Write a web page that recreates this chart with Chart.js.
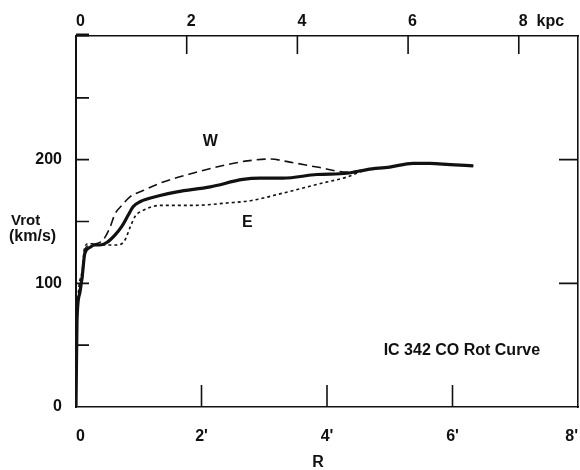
<!DOCTYPE html>
<html>
<head>
<meta charset="utf-8">
<script src="https://cdn.jsdelivr.net/npm/chart.js@4.4.0/dist/chart.umd.min.js"></script>
<style>
html,body{margin:0;padding:0;background:#fff;}
#wrap{width:580px;height:470px;}
</style>
</head>
<body>
<div id="wrap"><canvas id="c" width="580" height="470"></canvas></div>
<script>
// ---- data (radius in arcmin, rotation velocity in km/s) ----
const meanRadius = [0, 0.016, 0.06, 0.10, 0.14, 0.22, 0.30, 0.38, 0.49, 0.62, 0.73, 0.83, 0.91, 1.02, 1.34, 1.61, 2.14, 2.66, 2.93, 3.30, 3.84, 4.32, 4.64, 5.00, 5.37, 5.64, 5.96, 6.33];
const meanVrot   = [0, 70, 92, 106, 124, 129, 131, 131, 133, 139, 146, 155, 162, 166, 171, 174, 178, 184, 185, 185, 188, 189, 192, 194, 197, 197, 196, 195];

const westRadius = [0, 0.016, 0.10, 0.14, 0.22, 0.43, 0.54, 0.62, 0.73, 0.86, 1.07, 1.34, 1.86, 2.41, 2.73, 3.09, 3.41, 3.84, 4.32, 4.64, 5.00, 5.37, 5.64, 5.96, 6.33];
const westVrot   = [0, 70, 103, 127, 131, 135, 145, 156, 163, 170, 175, 181, 189, 196, 199, 200.5, 198, 194, 190, 192, 194, 197, 197, 196, 195];

const eastRadius = [0, 0.016, 0.10, 0.13, 0.19, 0.27, 0.38, 0.54, 0.67, 0.78, 0.86, 0.94, 1.07, 1.34, 1.86, 2.41, 2.80, 3.30, 3.84, 4.32, 4.64, 5.00, 5.37, 5.64, 5.96, 6.33];
const eastVrot   = [0, 70, 110, 127, 132, 132, 131, 131, 131, 135, 145, 154, 159, 163, 163, 165, 167, 173, 180, 186, 192, 194, 197, 197, 196, 195];

// ---- tick labels ----
const bottomTickValues = [0, 2, 4, 6, 8];
const bottomTickLabels = ["0", "2'", "4'", "6'", "8'"];
const topTickValues = [0, 2, 4, 6, 8];
const topTickLabels = ["0", "2", "4", "6", "8  kpc"];
const leftTickValues = [0, 100, 200];
const leftTickLabels = ["0", "100", "200"];

// inward tick marks
const bottomMarks = [2, 4, 6];
const topMarks = [2, 4, 6, 8];
const leftMarks = [50, 100, 150, 200, 250];
const rightMarks = [100, 200];

const INK = '#111';
const FONT = '"Liberation Sans", Arial, Helvetica, sans-serif';
Chart.defaults.font.family = FONT;
Chart.defaults.color = INK;

function pts(xs, ys) { return xs.map((x, i) => ({x: x, y: ys[i]})); }
function lookup(vals, labels) {
  return function(v) { const i = vals.indexOf(v); return i >= 0 ? labels[i] : ''; };
}

const extras = {
  id: 'extras',
  afterDraw(chart) {
    const ctx = chart.ctx;
    const sx = chart.scales.x, sx2 = chart.scales.x2, sy = chart.scales.y;
    const a = chart.chartArea;
    ctx.save();
    ctx.strokeStyle = INK;
    ctx.lineWidth = 1.6;
    ctx.beginPath();
    bottomMarks.forEach(v => { const p = sx.getPixelForValue(v); ctx.moveTo(p, a.bottom); ctx.lineTo(p, a.bottom - 22); });
    topMarks.forEach(v => { const p = sx2.getPixelForValue(v); ctx.moveTo(p, a.top); ctx.lineTo(p, a.top + 18); });
    leftMarks.forEach(v => { const p = sy.getPixelForValue(v); ctx.moveTo(a.left, p); ctx.lineTo(a.left + 13, p); });
    rightMarks.forEach(v => { const p = sy.getPixelForValue(v); ctx.moveTo(a.right, p); ctx.lineTo(a.right - 19, p); });
    ctx.stroke();
    // small thick flag at kpc origin
    ctx.lineWidth = 3;
    ctx.beginPath();
    ctx.moveTo(sx2.getPixelForValue(0), a.top - 1);
    ctx.lineTo(sx2.getPixelForValue(0) + 13, a.top - 1);
    ctx.stroke();

    ctx.fillStyle = INK;
    ctx.font = 'bold 16px ' + FONT;
    ctx.textAlign = 'center';
    ctx.textBaseline = 'middle';
    ctx.fillText('W', sx.getPixelForValue(2.14), sy.getPixelForValue(215));
    ctx.fillText('E', sx.getPixelForValue(2.73), sy.getPixelForValue(149));
    ctx.fillText('IC 342 CO Rot Curve', sx.getPixelForValue(6.15), sy.getPixelForValue(46));
    ctx.fillText('R', 318, 463);
    ctx.textAlign = 'left';
    ctx.font = 'bold 15px ' + FONT;
    ctx.fillText('Vrot', 11, 221);
    ctx.font = 'bold 16px ' + FONT;
    ctx.fillText('(km/s)', 9, 237);
    ctx.restore();
  }
};

new Chart(document.getElementById('c'), {
  type: 'line',
  data: {
    datasets: [
      { label: 'W', data: pts(westRadius, westVrot), borderColor: INK, borderWidth: 1.6, borderDash: [9, 5], pointRadius: 0, cubicInterpolationMode: 'monotone', fill: false, order: 2 },
      { label: 'E', data: pts(eastRadius, eastVrot), borderColor: INK, borderWidth: 1.6, borderDash: [3, 3], pointRadius: 0, cubicInterpolationMode: 'monotone', fill: false, order: 1 },
      { label: 'Mean', data: pts(meanRadius, meanVrot), borderColor: INK, borderWidth: 3.2, pointRadius: 0, cubicInterpolationMode: 'monotone', fill: false, order: 0 }
    ]
  },
  options: {
    responsive: false,
    animation: false,
    devicePixelRatio: 1,
    layout: { padding: 0 },
    plugins: { legend: { display: false }, tooltip: { enabled: false }, title: { display: false } },
    scales: {
      x: {
        type: 'linear', position: 'bottom', min: 0, max: 8,
        ticks: { stepSize: 2, align: 'inner', padding: 20, color: INK, font: { size: 16, weight: 'bold' }, callback: lookup(bottomTickValues, bottomTickLabels) },
        grid: { display: false, drawTicks: false },
        border: { display: true, color: INK, width: 1.6 },
        afterFit(s) { s.height = 63; s.paddingLeft = 0; s.paddingRight = 0; }
      },
      x2: {
        type: 'linear', position: 'top', display: true, min: 0, max: 9.07,
        ticks: { stepSize: 2, includeBounds: false, align: 'start', padding: 5, color: INK, font: { size: 16, weight: 'bold' }, callback: lookup(topTickValues, topTickLabels) },
        grid: { display: false, drawTicks: false },
        border: { display: true, color: INK, width: 1.6 },
        afterFit(s) { s.height = 36; s.paddingLeft = 0; s.paddingRight = 0; }
      },
      y: {
        type: 'linear', position: 'left', min: 0, max: 300,
        ticks: { stepSize: 100, padding: 14, color: INK, font: { size: 16, weight: 'bold' }, callback: lookup(leftTickValues, leftTickLabels) },
        grid: { display: false, drawTicks: false },
        border: { display: true, color: INK, width: 2 },
        afterFit(s) { s.width = 76; s.paddingTop = 0; s.paddingBottom = 0; }
      },
      y2: {
        type: 'linear', position: 'right', display: true, min: 0, max: 300,
        ticks: { display: false },
        grid: { display: false, drawTicks: false },
        border: { display: true, color: INK, width: 1.6 },
        afterFit(s) { s.width = 2; s.paddingTop = 0; s.paddingBottom = 0; }
      }
    }
  },
  plugins: [extras]
});
</script>
</body>
</html>
